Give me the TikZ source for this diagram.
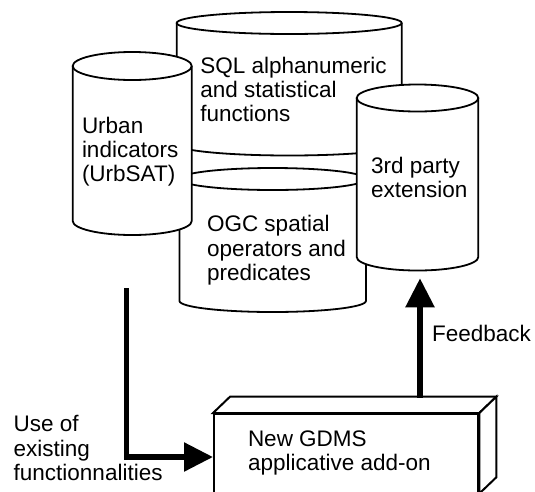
\documentclass[tikz,border=0pt]{standalone}
\usepackage{fontspec}
\setmainfont{Liberation Sans}
\usetikzlibrary{arrows.meta,calc}
\tikzset{
  cyl/.style={line width=1.8pt},
  txt/.style={anchor=north west, inner sep=0pt, align=left, font=\fontsize{22.5}{24.2}\selectfont},
  boxface/.style={draw, fill=white, line width=2pt},
  bigarrow/.style={line width=5.5pt, -{Triangle[length=29pt,width=28pt]}}
}
\newcommand\drawcyl[5]{%
  \fill[white] (#1-#2,#3) -- (#1-#2,#4) arc[start angle=180,end angle=0,x radius=#2,y radius=#5] -- (#1+#2,#3) arc[start angle=0,end angle=-180,x radius=#2,y radius=#5] -- cycle;
  \draw[cyl] (#1-#2,#3) -- (#1-#2,#4) arc[start angle=180,end angle=0,x radius=#2,y radius=#5] -- (#1+#2,#3);
  \draw[cyl] (#1,#3) ellipse[x radius=#2,y radius=#5];
}
\begin{document}
\begin{tikzpicture}[x=1pt,y=-1pt]
\useasboundingbox[fill=white] (0,0) rectangle (535,491);
% cylinders (back to front)
\drawcyl{289.2}{112.5}{23}{144.5}{11}
\drawcyl{272.7}{93.2}{179}{301}{11}
\drawcyl{132.2}{59.5}{66}{221}{14}
\drawcyl{417.5}{60.8}{98}{257}{13.5}
% cylinder labels
\node[txt] (sql) at (200.2,56.4) {\strut SQL alphanumeric\\\strut and statistical\\\strut functions};
\node[txt] (urban) at (81.8,116.4) {\strut Urban\\\strut indicators\\\strut (UrbSAT)};
\node[txt] (third) at (370.8,156.4) {\strut 3rd party\\\strut extension};
\node[txt] (ogc) at (206.8,214.8) {\strut OGC spatial\\\strut operators and\\\strut predicates};
% 3D box
\node[boxface, minimum width=264.3pt, minimum height=80.6pt, inner sep=0pt] (box) at (346.15,454.3) {};
\draw[boxface, line join=miter] (box.north west) -- ++(17,-16.3) -- ($(box.north east)+(17,-16.3)$) -- (box.north east) -- cycle;
\draw[boxface, line join=miter] (box.north east) -- ++(17,-16.3) -- ++(0,80.6) -- ++(-17,16.3) -- cycle;
\node[txt] (gdms) at (247.8,429.1) {\strut New GDMS\\\strut applicative add-on};
% connectors
\coordinate (usestart) at (126.3,288);
\coordinate (usecorner) at (126.3,457);
\draw[bigarrow] (usestart) -- (usecorner) -- (usecorner -| box.west);
\coordinate (fbstart) at (420,397.7);
\coordinate (fbend) at (420,278.3);
\draw[bigarrow] (fbstart) -- (fbend);
\node[txt] (usetxt) at (13.5,414.8) {\strut Use of\\\strut existing\\\strut functionnalities};
\node[txt] (fbtxt) at (431.8,324.8) {\strut Feedback};
\end{tikzpicture}
\end{document}
